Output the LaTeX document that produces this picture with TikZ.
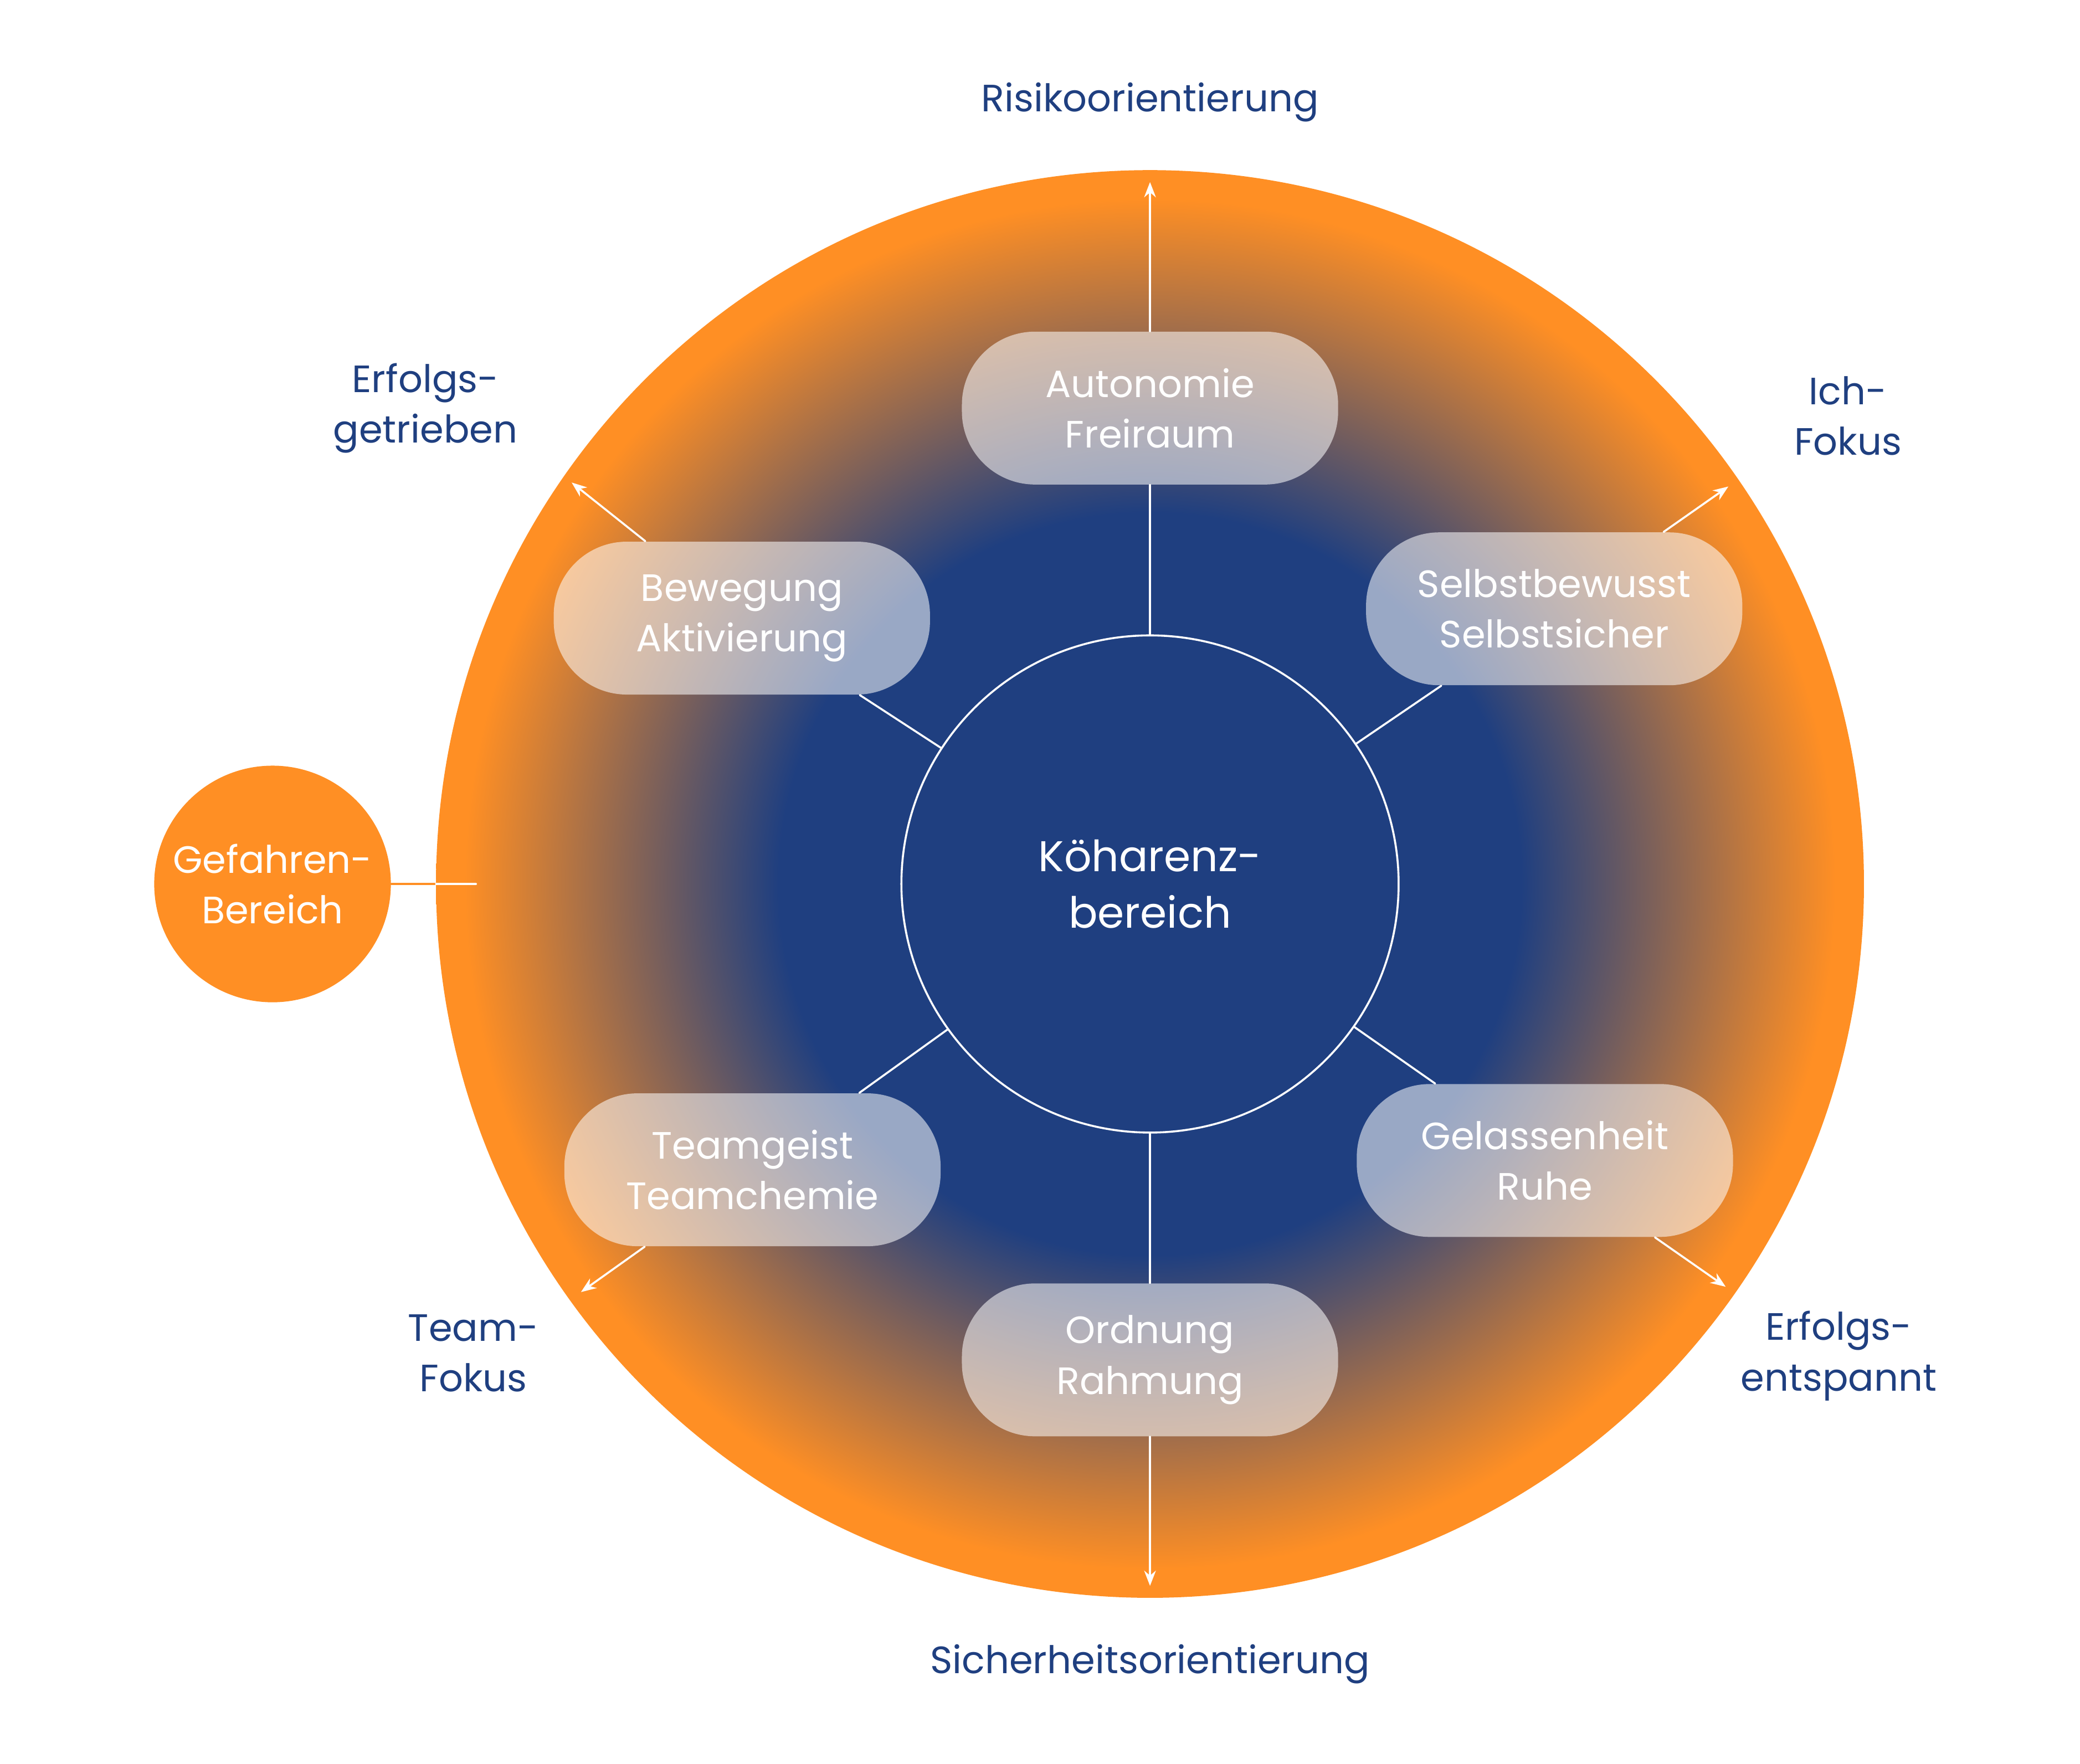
\documentclass[tikz,border=0pt]{standalone}
\usepackage{fontspec}
\setmainfont{Poppins}
\usetikzlibrary{arrows.meta}
\definecolor{orangeB}{HTML}{FF8F24}
\definecolor{blueB}{HTML}{1F3F80}
\pgfdeclareradialshading{zone}{\pgfpoint{0bp}{0bp}}{color(0bp)=(blueB); color(13bp)=(blueB); color(24bp)=(orangeB); color(50bp)=(orangeB)}
\begin{document}
\begin{tikzpicture}[>={Stealth[length=6.5pt,width=5pt]}, line join=round, line cap=round, font=\fontsize{16.3}{21.6}\selectfont,
	pill/.style={draw=none, fill=white, fill opacity=0.55, text opacity=1, text=white, rounded corners=1.1cm, minimum width=5.66cm, minimum height=2.3cm, align=center, inner sep=0pt},
	axis/.style={text=blueB, align=center},
	link/.style={draw=white, line width=0.85pt}]
	\def\R{10.74}
	\useasboundingbox (-17.30,-13.234) rectangle (13.99,13.30);
	\shade[shading=zone] (0,0) circle (\R);
	\node[circle, draw=white, line width=0.85pt, minimum size=7.48cm, text=white, align=center, font=\fontsize{18.4}{24}\selectfont] (core) at (0,0) {Köharenz-\\bereich};
	\node[pill] (auto) at (0,7.16) {Autonomie\\Freiraum};
	\node[pill] (beweg) at (-6.14,4.0) {Bewegung\\Aktivierung};
	\node[pill] (selbst) at (6.08,4.14) {Selbstbewusst\\Selbstsicher};
	\node[pill] (team) at (-5.98,-4.3) {Teamgeist\\Teamchemie};
	\node[pill] (gelas) at (5.94,-4.16) {Gelassenheit\\Ruhe};
	\node[pill] (ordn) at (0,-7.16) {Ordnung\\Rahmung};
	\coordinate (tipN) at (0,10.56);
	\coordinate (tipNW) at (-8.7,6.04);
	\coordinate (tipNE) at (8.7,5.98);
	\coordinate (tipSW) at (-8.56,-6.14);
	\coordinate (tipSE) at (8.66,-6.06);
	\coordinate (tipS) at (0,-10.56);
	\foreach \b/\n in {auto/N,beweg/NW,selbst/NE,team/SW,gelas/SE,ordn/S}
	{\draw[link] (core) -- (\b);
		\draw[link,->] (\b) -- (tip\n);}
	\node[circle, fill=orangeB, minimum size=3.56cm, text=white, align=center, inner sep=0pt] (gefahr) at (-13.2,0) {Gefahren-\\Bereich};
	\coordinate (rim) at (180:\R);
	\coordinate (gEnd) at (-10.14,0);
	\draw[orangeB, line width=0.85pt] (gefahr) -- (rim);
	\draw[link] (rim) -- (gEnd);
	\node[axis] (risk) at (0,11.76) {Risikoorientierung};
	\node[axis] (sich) at (0,-11.74) {Sicherheitsorientierung};
	\node[axis] (getr) at (-10.9,7.16) {Erfolgs-\\getrieben};
	\node[axis] (ich) at (10.5,7.04) {Ich-\\Fokus};
	\node[axis] (tfok) at (-10.18,-7.06) {Team-\\Fokus};
	\node[axis] (entsp) at (10.36,-7.1) {Erfolgs-\\entspannt};
\end{tikzpicture}
\end{document}
